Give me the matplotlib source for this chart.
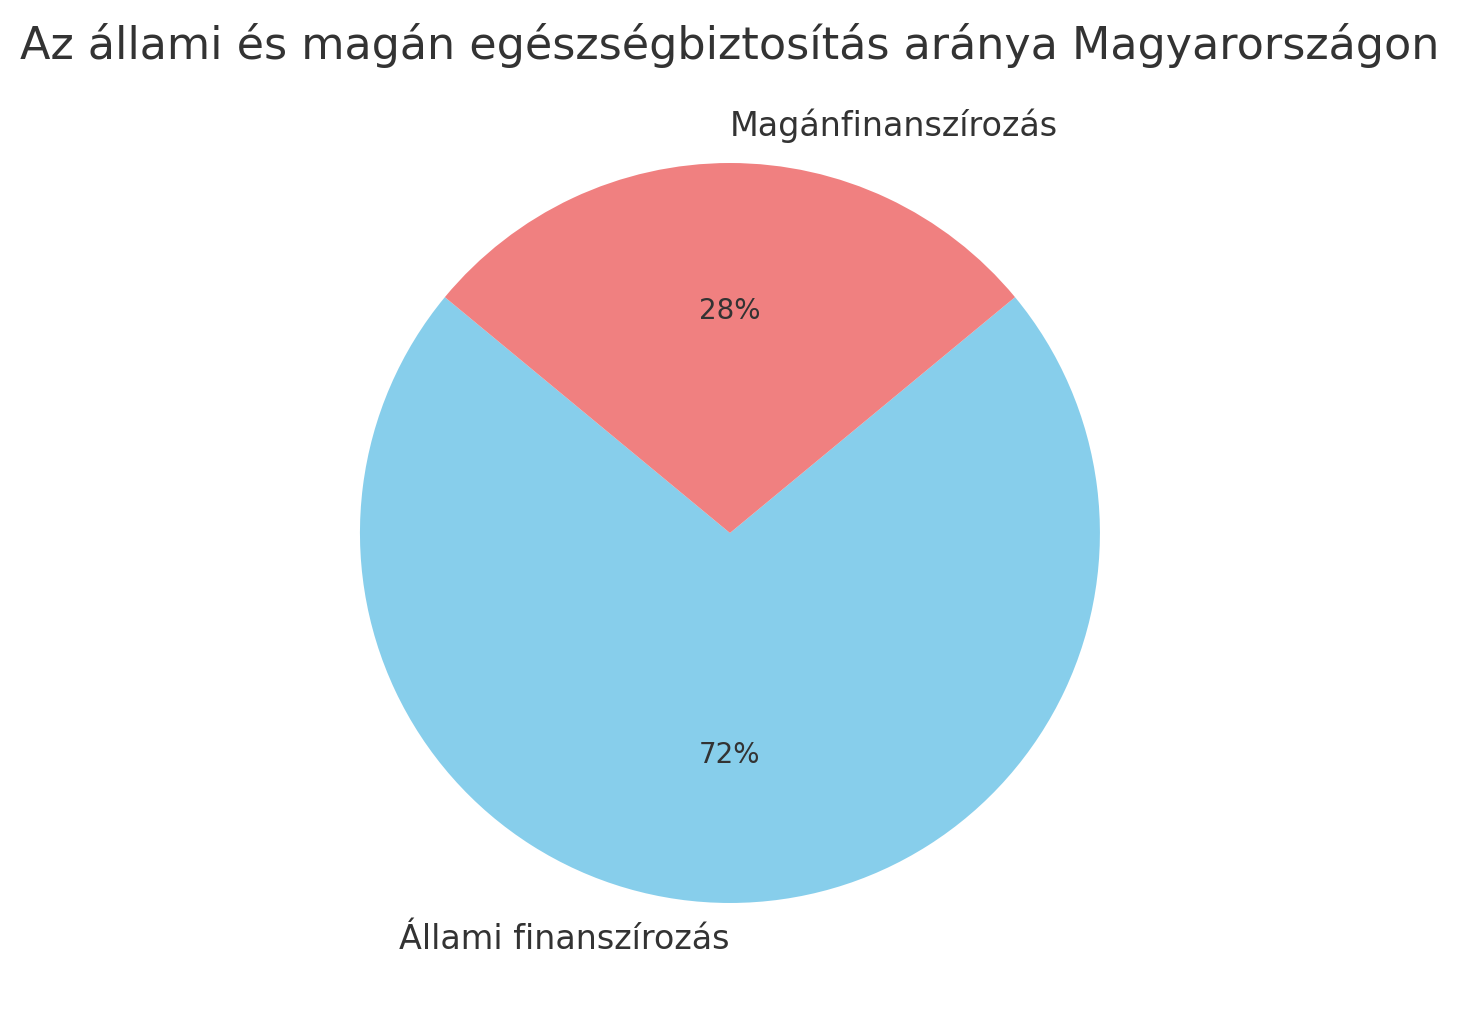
import matplotlib
matplotlib.use("Agg")
import matplotlib.pyplot as plt

labels = ["Állami finanszírozás", "Magánfinanszírozás"]
shares = [72, 28]
colors = ["skyblue", "lightcoral"]
title = "Az állami és magán egészségbiztosítás aránya Magyarországon"

plt.rcParams["text.color"] = "#333333"
plt.rcParams["font.family"] = ["DejaVu Sans"]

fig = plt.figure(figsize=(7.295, 5.08), dpi=200)
ax = fig.add_axes([0.1833, 0.0202, 0.634, 0.9104])
wedges, texts, autotexts = ax.pie(shares, labels=labels, colors=colors,
                                  autopct="%1.0f%%", startangle=140.4,
                                  textprops={"fontsize": 12})
for t in autotexts:
    t.set_fontsize(10)
# label alignment as in the original
texts[0].set_ha("right")
texts[1].set_ha("left")
ax.set_xlim(-1.25, 1.25)
ax.set_ylim(-1.25, 1.25)
ax.set_aspect("equal")
ax.set_title(title, fontsize=16, pad=4)
plt.savefig("out.png", dpi=200)
